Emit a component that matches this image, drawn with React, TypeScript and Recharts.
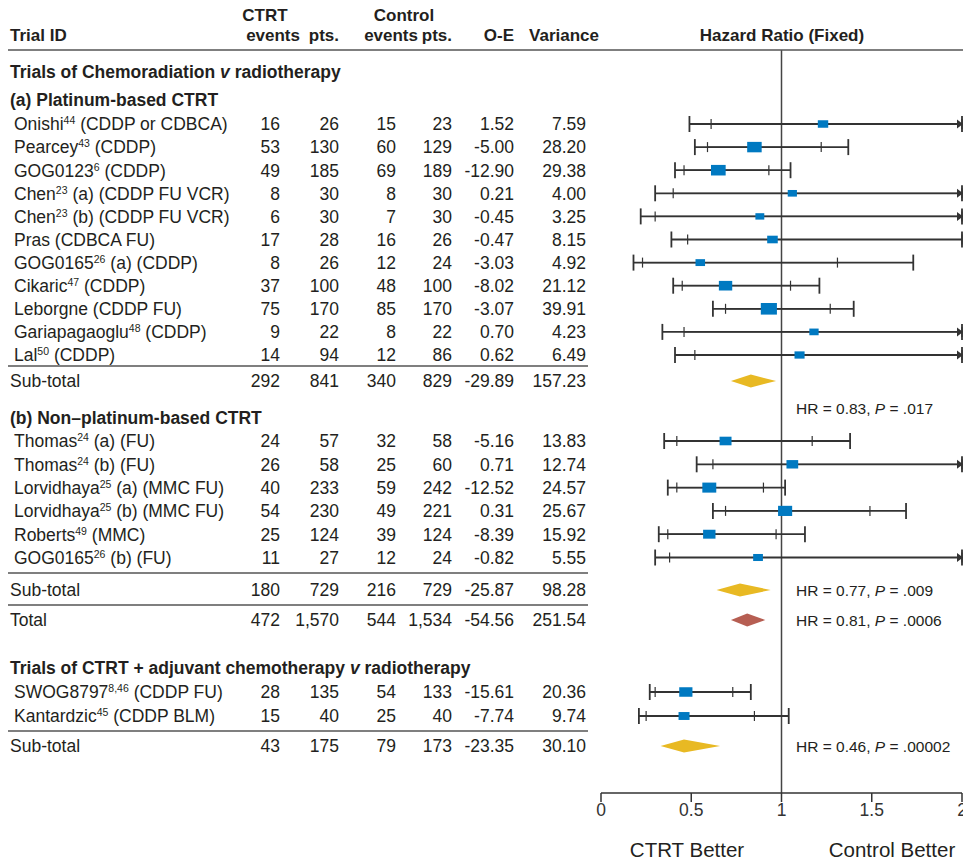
import React from "react";
import {
  ComposedChart,
  ErrorBar,
  ReferenceArea,
  ReferenceLine,
  Scatter,
  XAxis,
  YAxis,
} from "recharts";

// ---- trial data ----
const trialNames = ["Onishi", "Pearcey", "GOG0123", "Chen", "Chen", "Pras", "GOG0165", "Cikaric", "Leborgne", "Gariapagaoglu", "Lal", "Thomas", "Thomas", "Lorvidhaya", "Lorvidhaya", "Roberts", "GOG0165", "SWOG8797", "Kantardzic"];
const trialRefs = ["44", "43", "6", "23", "23", "", "26", "47", "", "48", "50", "24", "24", "25", "25", "49", "26", "8,46", "45"];
const trialDetails = [" (CDDP or CDBCA)", " (CDDP)", " (CDDP)", " (a) (CDDP FU VCR)", " (b) (CDDP FU VCR)", " (CDBCA FU)", " (a) (CDDP)", " (CDDP)", " (CDDP FU)", " (CDDP)", " (CDDP)", " (a) (FU)", " (b) (FU)", " (a) (MMC FU)", " (b) (MMC FU)", " (MMC)", " (b) (FU)", " (CDDP FU)", " (CDDP BLM)"];
const trialGroups = ["a", "a", "a", "a", "a", "a", "a", "a", "a", "a", "a", "b", "b", "b", "b", "b", "b", "c", "c"];
const ctrtEvents = [16, 53, 49, 8, 6, 17, 8, 37, 75, 9, 14, 24, 26, 40, 54, 25, 11, 28, 15];
const ctrtPatients = [26, 130, 185, 30, 30, 28, 26, 100, 170, 22, 94, 57, 58, 233, 230, 124, 27, 135, 40];
const controlEvents = [15, 60, 69, 8, 7, 16, 12, 48, 85, 8, 12, 32, 25, 59, 49, 39, 12, 54, 25];
const controlPatients = [23, 129, 189, 30, 30, 26, 24, 100, 170, 22, 86, 58, 60, 242, 221, 124, 24, 133, 40];
const observedMinusExpected = [1.52, -5.0, -12.9, 0.21, -0.45, -0.47, -3.03, -8.02, -3.07, 0.7, 0.62, -5.16, 0.71, -12.52, 0.31, -8.39, -0.82, -15.61, -7.74];
const variances = [7.59, 28.2, 29.38, 4.0, 3.25, 8.15, 4.92, 21.12, 39.91, 4.23, 6.49, 13.83, 12.74, 24.57, 25.67, 15.92, 5.55, 20.36, 9.74];
const hazardRatios = [1.23, 0.85, 0.65, 1.06, 0.88, 0.95, 0.55, 0.69, 0.93, 1.18, 1.1, 0.69, 1.06, 0.6, 1.02, 0.6, 0.87, 0.47, 0.46];
const ci99Low = [0.49, 0.52, 0.41, 0.3, 0.22, 0.39, 0.18, 0.4, 0.62, 0.34, 0.41, 0.35, 0.53, 0.37, 0.62, 0.32, 0.3, 0.27, 0.21];
const ci95Low = [0.61, 0.59, 0.46, 0.4, 0.3, 0.48, 0.23, 0.45, 0.69, 0.46, 0.52, 0.42, 0.62, 0.42, 0.69, 0.37, 0.38, 0.3, 0.25];
const ci95High = [2.49, 1.22, 0.93, 2.81, 2.59, 2.0, 1.31, 1.05, 1.27, 3.05, 2.37, 1.17, 2.2, 0.9, 1.49, 0.97, 2.05, 0.73, 0.85];
const ci99High = [3.12, 1.37, 1.05, 3.82, 3.63, 2.0, 1.73, 1.21, 1.4, 4.1, 3.03, 1.38, 2.6, 1.02, 1.69, 1.13, 2.57, 0.83, 1.04];

// ---- pooled rows ----
const pooledLabels = ["Sub-total", "Sub-total", "Total", "Sub-total"];
const pooledCtrtEvents = [292, 180, 472, 43];
const pooledCtrtPatients = [841, 729, 1570, 175];
const pooledControlEvents = [340, 216, 544, 79];
const pooledControlPatients = [829, 729, 1534, 173];
const pooledOE = [-29.89, -25.87, -54.56, -23.35];
const pooledVariance = [157.23, 98.28, 251.54, 30.1];
const pooledHr = [0.83, 0.77, 0.81, 0.46];
const pooledLow = [0.72, 0.64, 0.72, 0.33];
const pooledHigh = [0.97, 0.94, 0.91, 0.66];
const pooledP = [".017", ".009", ".0006", ".00002"];

const axisTicks = [0, 0.5, 1, 1.5, 2];

const font = '"Liberation Sans", Arial, sans-serif';
const ink = "#231f20";
const lineColor = "#333333";
const boxBlue = "#0079c1";
const gold = "#e8b923";
const brick = "#b65e52";
const cols = [280, 339, 396, 452, 514, 586];
const textSize = 17.5;

// ---- row layout (vertical order of the table) ----
type Row = { kind: string; y: number; text?: string; trial?: number; pooled?: number; note?: number };
const rows: Row[] = [];
let cursor = 22;
const add = (r: Omit<Row, "y">, gap: number) => {
  cursor += gap;
  rows.push({ ...r, y: cursor });
};
const trialIdx = (g: string) => trialGroups.map((x, i) => (x === g ? i : -1)).filter((i) => i >= 0);

add({ kind: "section", text: "Trials of Chemoradiation |v| radiotherapy" }, 0);
add({ kind: "subhead", text: "(a) Platinum-based CTRT" }, 28);
trialIdx("a").forEach((t, k) => add({ kind: "trial", trial: t }, k === 0 ? 24 : 23.1));
add({ kind: "rule" }, 11);
add({ kind: "pooled", pooled: 0 }, 15);
add({ kind: "note", note: 0 }, 27);
add({ kind: "subhead", text: "(b) Non\u2013platinum-based CTRT" }, 10);
trialIdx("b").forEach((t, k) => add({ kind: "trial", trial: t }, k === 0 ? 23 : 23.3));
add({ kind: "rule" }, 15.5);
add({ kind: "pooled", pooled: 1, note: 1 }, 17);
add({ kind: "rule" }, 15);
add({ kind: "pooled", pooled: 2, note: 2 }, 15);
add({ kind: "section", text: "Trials of CTRT + adjuvant chemotherapy |v| radiotherapy" }, 48);
trialIdx("c").forEach((t) => add({ kind: "trial", trial: t }, 24));
add({ kind: "rule" }, 15);
add({ kind: "pooled", pooled: 3, note: 3 }, 15);

const rowY = (kind: string, key: "trial" | "pooled", i: number) =>
  rows.find((r) => r.kind === kind && r[key] === i)!.y;

const trialData = trialNames.map((_, i) => ({
  x: hazardRatios[i],
  y: rowY("trial", "trial", i),
  variance: variances[i],
  err99: [hazardRatios[i] - ci99Low[i], Math.min(ci99High[i], 2) - hazardRatios[i]],
  err95: [hazardRatios[i] - ci95Low[i], Math.min(ci95High[i], 2) - hazardRatios[i]],
}));
const arrowData = trialData.filter((_, i) => ci99High[i] > 2).map((d) => ({ x: 2, y: d.y }));
const pooledData = pooledHr.map((hr, i) => ({
  hr,
  lo: pooledLow[i],
  hi: pooledHigh[i],
  y: rowY("pooled", "pooled", i),
  color: i === 2 ? brick : gold,
}));

const fmtInt = (v: number) => v.toLocaleString("en-US");
const fmt2 = (v: number) => v.toFixed(2);

function Numbers({ y, values }: { y: number; values: string[] }) {
  return (
    <>
      {values.map((v, k) => (
        <text key={k} x={cols[k]} y={y} dy="0.36em" textAnchor="end" fontSize={textSize} fill={ink} fontFamily={font}>
          {v}
        </text>
      ))}
    </>
  );
}

function BoldWithItalic({ x, y, text }: { x: number; y: number; text: string }) {
  const parts = text.split("|");
  return (
    <text x={x} y={y} dy="0.36em" fontSize={textSize} fontWeight="bold" fill={ink} fontFamily={font}>
      {parts.map((p, k) => (
        <tspan key={k} fontStyle={k % 2 === 1 ? "italic" : "normal"}>
          {p}
        </tspan>
      ))}
    </text>
  );
}

function HrNote({ y, i }: { y: number; i: number }) {
  return (
    <text x={796} y={y} dy="0.36em" fontSize={15.5} fill={ink} fontFamily={font}>
      {`HR = ${pooledHr[i].toFixed(2)}, `}
      <tspan fontStyle="italic">P</tspan>
      {` = ${pooledP[i]}`}
    </text>
  );
}

function RowTick(props: any) {
  const y = props.y;
  const value = props.payload ? props.payload.value : undefined;
  const row = rows.find((r) => Math.abs(r.y - value) < 1e-6);
  if (!row) return <g />;
  if (row.kind === "section" || row.kind === "subhead") return <BoldWithItalic x={10} y={y} text={row.text!} />;
  if (row.kind === "rule") return <line x1={8} x2={588} y1={y} y2={y} stroke="#555" strokeWidth={1.5} />;
  if (row.kind === "note") return <HrNote y={y} i={row.note!} />;
  if (row.kind === "trial") {
    const i = row.trial!;
    return (
      <g>
        <text x={14} y={y} dy="0.36em" fontSize={textSize} fill={ink} fontFamily={font}>
          {trialNames[i]}
          {trialRefs[i] ? (
            <tspan dy={-6} fontSize={10.5}>
              {trialRefs[i]}
            </tspan>
          ) : null}
          <tspan dy={trialRefs[i] ? 6 : 0}>{trialDetails[i]}</tspan>
        </text>
        <Numbers
          y={y}
          values={[
            fmtInt(ctrtEvents[i]),
            fmtInt(ctrtPatients[i]),
            fmtInt(controlEvents[i]),
            fmtInt(controlPatients[i]),
            fmt2(observedMinusExpected[i]),
            fmt2(variances[i]),
          ]}
        />
      </g>
    );
  }
  const i = row.pooled!;
  return (
    <g>
      <text x={10} y={y} dy="0.36em" fontSize={textSize} fill={ink} fontFamily={font}>
        {pooledLabels[i]}
      </text>
      <Numbers
        y={y}
        values={[
          fmtInt(pooledCtrtEvents[i]),
          fmtInt(pooledCtrtPatients[i]),
          fmtInt(pooledControlEvents[i]),
          fmtInt(pooledControlPatients[i]),
          fmt2(pooledOE[i]),
          fmt2(pooledVariance[i]),
        ]}
      />
      {row.note !== undefined ? <HrNote y={y} i={row.note} /> : null}
    </g>
  );
}

const Box = (props: any) => {
  const { cx, cy, payload } = props;
  const w = 6 + 1.6 * Math.sqrt(payload.variance);
  const h = w * 0.72;
  return <rect x={cx - w / 2} y={cy - h / 2} width={w} height={h} fill={boxBlue} />;
};

const Arrow = (props: any) => {
  const { cx, cy } = props;
  return <polygon points={`${cx + 1},${cy} ${cx - 5},${cy - 4.5} ${cx - 5},${cy + 4.5}`} fill={lineColor} />;
};

const makeDiamond = (d: (typeof pooledData)[number]) => (props: any) => {
  const { x, y, width, height } = props;
  const cy = y + height / 2;
  const mid = x + (width * (d.hr - d.lo)) / (d.hi - d.lo);
  return (
    <polygon
      points={`${x},${cy} ${mid},${cy - 6.5} ${x + width},${cy} ${mid},${cy + 6.5}`}
      fill={d.color}
    />
  );
};

export default function App() {
  const headText = { fontSize: 17, fontWeight: "bold" as const, fill: ink, fontFamily: font };
  return (
    <div style={{ position: "relative", width: 963, height: 861, background: "#fff" }}>
      <style>{`body{margin:0}`}</style>
      <ComposedChart width={963} height={861} margin={{ top: 50, right: 1, bottom: 38, left: 600 }}>
        <XAxis
          type="number"
          dataKey="x"
          domain={[0, 2]}
          ticks={axisTicks}
          interval={0}
          height={30}
          tickSize={9}
          axisLine={{ stroke: lineColor, strokeWidth: 1.5 }}
          tickLine={{ stroke: lineColor, strokeWidth: 1.5 }}
          tick={{ fill: "#333", fontSize: 17.5, fontFamily: font }}
        />
        <YAxis
          type="number"
          dataKey="y"
          domain={[0, 743]}
          reversed
          width={1}
          ticks={rows.map((r) => r.y)}
          interval={0}
          axisLine={false}
          tickLine={false}
          tick={(p: any) => <RowTick {...p} />}
        />
        <ReferenceLine x={1} stroke="#444" strokeWidth={1.5} />
        {pooledData.map((d, i) => (
          <ReferenceArea
            key={i}
            x1={d.lo}
            x2={d.hi}
            y1={d.y - 1}
            y2={d.y + 1}
            ifOverflow="visible"
            shape={makeDiamond(d)}
          />
        ))}
        <Scatter data={trialData} isAnimationActive={false} shape={() => <g />}>
          <ErrorBar dataKey="err99" direction="x" width={8} stroke={lineColor} strokeWidth={1.8} isAnimationActive={false} />
          <ErrorBar dataKey="err95" direction="x" width={5} stroke={lineColor} strokeWidth={1.2} isAnimationActive={false} />
        </Scatter>
        <Scatter data={arrowData} isAnimationActive={false} shape={<Arrow />} />
        <Scatter data={trialData} isAnimationActive={false} shape={<Box />} />
      </ComposedChart>
      <svg width={963} height={861} style={{ position: "absolute", left: 0, top: 0, pointerEvents: "none" }}>
        <text x={10} y={35} dy="0.36em" {...headText}>Trial ID</text>
        <text x={265} y={15} dy="0.36em" textAnchor="middle" {...headText}>CTRT</text>
        <text x={300} y={35} dy="0.36em" textAnchor="end" {...headText}>events</text>
        <text x={339} y={35} dy="0.36em" textAnchor="end" {...headText}>pts.</text>
        <text x={404} y={15} dy="0.36em" textAnchor="middle" {...headText}>Control</text>
        <text x={418} y={35} dy="0.36em" textAnchor="end" {...headText}>events</text>
        <text x={452} y={35} dy="0.36em" textAnchor="end" {...headText}>pts.</text>
        <text x={514} y={35} dy="0.36em" textAnchor="end" {...headText}>O-E</text>
        <text x={599} y={35} dy="0.36em" textAnchor="end" {...headText}>Variance</text>
        <text x={782} y={35} dy="0.36em" textAnchor="middle" {...headText}>Hazard Ratio (Fixed)</text>
        <line x1={8} x2={963} y1={50} y2={50} stroke="#555" strokeWidth={1.5} />
        <text x={687} y={850} dy="0.36em" textAnchor="middle" fontSize={20.5} fill={ink} fontFamily={font}>CTRT Better</text>
        <text x={892} y={850} dy="0.36em" textAnchor="middle" fontSize={20.5} fill={ink} fontFamily={font}>Control Better</text>
      </svg>
    </div>
  );
}
